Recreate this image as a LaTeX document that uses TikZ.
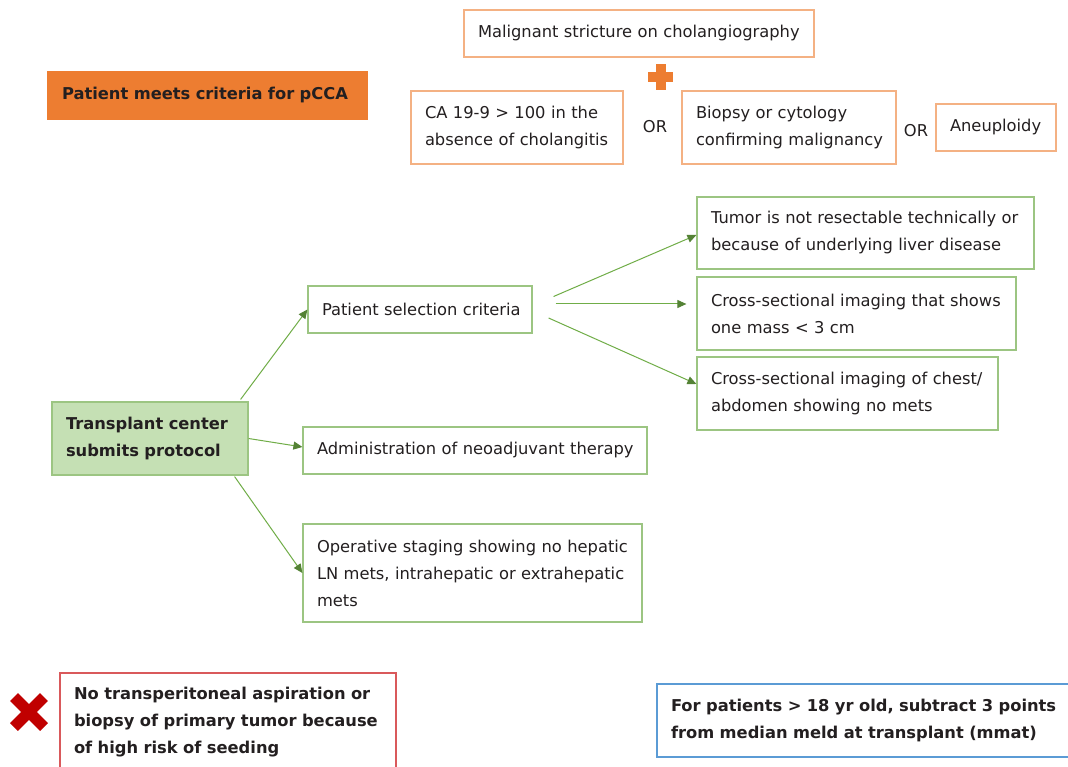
\documentclass[tikz,border=0pt]{standalone}
\usepackage{fontspec}
\setmainfont{DejaVu Sans}
\usetikzlibrary{arrows.meta}
\definecolor{txt}{HTML}{231F20}
\definecolor{ofill}{HTML}{ED7D31}
\definecolor{oborder}{HTML}{F4B183}
\definecolor{gfill}{HTML}{C5E0B4}
\definecolor{gborder}{HTML}{9CC582}
\definecolor{gline}{HTML}{70AD47}
\definecolor{ghead}{HTML}{548235}
\definecolor{rborder}{HTML}{D9595B}
\definecolor{xred}{HTML}{C00000}
\definecolor{bborder}{HTML}{5B9BD5}
\begin{document}
\begin{tikzpicture}[x=1pt,y=-1pt,
  box/.style={draw, rectangle, line width=1.2pt, inner xsep=14pt, inner ysep=0pt,
    align=left, text=txt, font=\fontsize{16.3}{27}\selectfont},
  obox/.style={box, draw=oborder},
  gbox/.style={box, draw=gborder},
  bbox/.style={box, font=\fontsize{16.3}{27}\selectfont\bfseries},
  arr/.style={draw=gline, line width=1pt, -{Triangle[length=9pt,width=8pt,color=ghead]}},
  plain/.style={text=txt, font=\fontsize{16.3}{27}\selectfont, inner sep=0pt}]
\useasboundingbox (0,0) rectangle (1068,767);
\fill[white] (0,0) rectangle (1068,767);

% top criteria
\node[obox, text width=322pt, minimum height=47pt] (mal) at (639,33.5)
  {\mbox{Malignant stricture on cholangiography}};
\fill[ofill] (648,72.5) rectangle (673,82);
\fill[ofill] (656,64) rectangle (665.5,90);
\node[bbox, draw=ofill, fill=ofill, text width=291pt, minimum height=47pt] (pmeet) at (207.5,95.5)
  {\mbox{Patient meets criteria for pCCA}};
\node[obox, text width=184pt, minimum height=73pt] (ca) at (517,127.5)
  {\mbox{CA 19-9 > 100 in the}\\\mbox{absence of cholangitis}};
\node[plain] (or1) at (655,127) {OR};
\node[obox, text width=186pt, minimum height=73pt] (bio) at (789,127.5)
  {\mbox{Biopsy or cytology}\\\mbox{confirming malignancy}};
\node[plain] (or2) at (916,131) {OR};
\node[obox, text width=92pt, minimum height=47pt] (aneu) at (996,127.5)
  {\mbox{Aneuploidy}};

% selection criteria
\node[gbox, text width=309pt, minimum height=72pt] (tumor) at (865.5,233)
  {\mbox{Tumor is not resectable technically or}\\\mbox{because of underlying liver disease}};
\node[gbox, text width=291pt, minimum height=73pt] (mass) at (856.5,313.5)
  {\mbox{Cross-sectional imaging that shows}\\\mbox{one mass < 3 cm}};
\node[gbox, text width=273pt, minimum height=73pt] (chest) at (847.5,393.5)
  {\mbox{Cross-sectional imaging of chest/}\\\mbox{abdomen showing no mets}};
\node[gbox, text width=196pt, minimum height=47pt] (psel) at (420,309.5)
  {\mbox{Patient selection criteria}};
\node[bbox, draw=gborder, fill=gfill, text width=168pt, minimum height=73pt] (trans) at (150,438.5)
  {\mbox{Transplant center}\\\mbox{submits protocol}};
\node[gbox, text width=316pt, minimum height=47pt] (admin) at (475,450.5)
  {\mbox{Administration of neoadjuvant therapy}};
\node[gbox, text width=311pt, minimum height=98pt] (op) at (472.5,573)
  {\mbox{Operative staging showing no hepatic}\\\mbox{LN mets, intrahepatic or extrahepatic}\\\mbox{mets}};

% connectors
\draw[arr] ([xshift=-8pt,yshift=2pt]trans.north east) -- (psel.west);
\draw[arr] (trans.east) -- ([yshift=3.5pt]admin.west);
\draw[arr] ([xshift=-14pt,yshift=-1pt]trans.south east) -- (op.west);
\draw[arr] ([xshift=21pt,yshift=13pt]psel.east) -- ([yshift=-2pt]tumor.west);
\draw[arr] ([xshift=23pt,yshift=5.5pt]psel.east) -- ([xshift=-10pt,yshift=9.5pt]mass.west);
\draw[arr] ([xshift=16pt,yshift=-8.5pt]psel.east) -- ([yshift=9.5pt]chest.west);

% bottom notes
\draw[xred, line width=11pt] (14,697) -- (44,727);
\draw[xred, line width=11pt] (14,727) -- (44,697);
\node[bbox, draw=rborder, text width=308pt, minimum height=98pt] (notrans) at (228,722)
  {\mbox{No transperitoneal aspiration or}\\\mbox{biopsy of primary tumor because}\\\mbox{of high risk of seeding}};
\node[bbox, draw=bborder, text width=405pt, minimum height=73pt] (forpat) at (873.5,720.5)
  {\mbox{For patients > 18 yr old, subtract 3 points}\\\mbox{from median meld at transplant (mmat)}};
\end{tikzpicture}
\end{document}
